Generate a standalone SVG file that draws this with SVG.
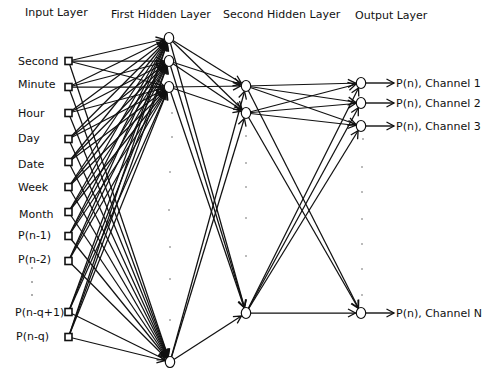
<svg xmlns="http://www.w3.org/2000/svg" width="493" height="368" viewBox="0 0 493 368">
  <style>
    text { font-family: "DejaVu Sans", "Liberation Sans", sans-serif; font-size: 11px; fill: #111; }
    .w { stroke: #111; stroke-width: 1.25; fill: none; marker-end: url(#head); }
    .out { stroke: #111; stroke-width: 1.4; fill: none; marker-end: url(#tip); }
    .unit { fill: #fff; stroke: #111; stroke-width: 1.2; }
    .sq { fill: #fff; stroke: #111; stroke-width: 1.6; }
    .dot { fill: #444; }
  </style>
  <defs>
    <!-- open arrowhead whose tip stops at the rim of a node (lines are drawn centre to centre) -->
    <marker id="head" markerUnits="userSpaceOnUse" markerWidth="16" markerHeight="10" refX="13" refY="4" orient="auto" overflow="visible">
      <path d="M0,0 L7.5,4 L0,8" fill="none" stroke="#111" stroke-width="1.3"/>
    </marker>
    <marker id="tip" markerUnits="userSpaceOnUse" markerWidth="10" markerHeight="10" refX="7.5" refY="4" orient="auto" overflow="visible">
      <path d="M0,0 L7.5,4 L0,8" fill="none" stroke="#111" stroke-width="1.3"/>
    </marker>
  </defs>

  <!-- layer titles -->
  <g id="titles">
    <text x="25" y="16">Input Layer</text>
    <text x="111" y="18">First Hidden Layer</text>
    <text x="223" y="18">Second Hidden Layer</text>
    <text x="355" y="19">Output Layer</text>
  </g>

  <g id="connectors">
    <!-- input layer to first hidden layer -->
    <line class="w" x1="68.5" y1="61" x2="169" y2="38"/>
    <line class="w" x1="68.5" y1="61" x2="169" y2="61"/>
    <line class="w" x1="68.5" y1="61" x2="169" y2="87"/>
    <line class="w" x1="68.5" y1="61" x2="170" y2="362"/>
    <line class="w" x1="68.5" y1="87" x2="169" y2="38"/>
    <line class="w" x1="68.5" y1="87" x2="169" y2="61"/>
    <line class="w" x1="68.5" y1="87" x2="169" y2="87"/>
    <line class="w" x1="68.5" y1="87" x2="170" y2="362"/>
    <line class="w" x1="68.5" y1="113" x2="169" y2="38"/>
    <line class="w" x1="68.5" y1="113" x2="169" y2="61"/>
    <line class="w" x1="68.5" y1="113" x2="169" y2="87"/>
    <line class="w" x1="68.5" y1="113" x2="170" y2="362"/>
    <line class="w" x1="68.5" y1="139" x2="169" y2="38"/>
    <line class="w" x1="68.5" y1="139" x2="169" y2="61"/>
    <line class="w" x1="68.5" y1="139" x2="169" y2="87"/>
    <line class="w" x1="68.5" y1="139" x2="170" y2="362"/>
    <line class="w" x1="68.5" y1="162" x2="169" y2="38"/>
    <line class="w" x1="68.5" y1="162" x2="169" y2="61"/>
    <line class="w" x1="68.5" y1="162" x2="169" y2="87"/>
    <line class="w" x1="68.5" y1="162" x2="170" y2="362"/>
    <line class="w" x1="68.5" y1="187" x2="169" y2="38"/>
    <line class="w" x1="68.5" y1="187" x2="169" y2="61"/>
    <line class="w" x1="68.5" y1="187" x2="169" y2="87"/>
    <line class="w" x1="68.5" y1="187" x2="170" y2="362"/>
    <line class="w" x1="68.5" y1="212" x2="169" y2="38"/>
    <line class="w" x1="68.5" y1="212" x2="169" y2="61"/>
    <line class="w" x1="68.5" y1="212" x2="169" y2="87"/>
    <line class="w" x1="68.5" y1="212" x2="170" y2="362"/>
    <line class="w" x1="68.5" y1="236" x2="169" y2="38"/>
    <line class="w" x1="68.5" y1="236" x2="169" y2="61"/>
    <line class="w" x1="68.5" y1="236" x2="169" y2="87"/>
    <line class="w" x1="68.5" y1="236" x2="170" y2="362"/>
    <line class="w" x1="68.5" y1="261" x2="169" y2="38"/>
    <line class="w" x1="68.5" y1="261" x2="169" y2="61"/>
    <line class="w" x1="68.5" y1="261" x2="169" y2="87"/>
    <line class="w" x1="68.5" y1="261" x2="170" y2="362"/>
    <line class="w" x1="68.5" y1="312" x2="169" y2="38"/>
    <line class="w" x1="68.5" y1="312" x2="169" y2="61"/>
    <line class="w" x1="68.5" y1="312" x2="169" y2="87"/>
    <line class="w" x1="68.5" y1="312" x2="170" y2="362"/>
    <line class="w" x1="68.5" y1="337" x2="169" y2="38"/>
    <line class="w" x1="68.5" y1="337" x2="169" y2="61"/>
    <line class="w" x1="68.5" y1="337" x2="169" y2="87"/>
    <line class="w" x1="68.5" y1="337" x2="170" y2="362"/>

    <!-- first hidden layer to second hidden layer -->
    <line class="w" x1="169" y1="38" x2="246" y2="86"/>
    <line class="w" x1="169" y1="38" x2="246" y2="113"/>
    <line class="w" x1="169" y1="38" x2="246" y2="313"/>
    <line class="w" x1="169" y1="61" x2="246" y2="86"/>
    <line class="w" x1="169" y1="61" x2="246" y2="113"/>
    <line class="w" x1="169" y1="61" x2="246" y2="313"/>
    <line class="w" x1="169" y1="87" x2="246" y2="86"/>
    <line class="w" x1="169" y1="87" x2="246" y2="113"/>
    <line class="w" x1="169" y1="87" x2="246" y2="313"/>
    <line class="w" x1="170" y1="362" x2="246" y2="86"/>
    <line class="w" x1="170" y1="362" x2="246" y2="113"/>
    <line class="w" x1="170" y1="362" x2="246" y2="313"/>

    <!-- second hidden layer to output layer -->
    <line class="w" x1="246" y1="86" x2="361" y2="83"/>
    <line class="w" x1="246" y1="86" x2="361" y2="103"/>
    <line class="w" x1="246" y1="86" x2="361" y2="126"/>
    <line class="w" x1="246" y1="86" x2="361" y2="313"/>
    <line class="w" x1="246" y1="113" x2="361" y2="83"/>
    <line class="w" x1="246" y1="113" x2="361" y2="103"/>
    <line class="w" x1="246" y1="113" x2="361" y2="126"/>
    <line class="w" x1="246" y1="113" x2="361" y2="313"/>
    <line class="w" x1="246" y1="313" x2="361" y2="83"/>
    <line class="w" x1="246" y1="313" x2="361" y2="103"/>
    <line class="w" x1="246" y1="313" x2="361" y2="126"/>
    <line class="w" x1="246" y1="313" x2="361" y2="313"/>

    <!-- outputs -->
    <line class="out" x1="366" y1="83" x2="394" y2="83"/>
    <line class="out" x1="366" y1="103" x2="394" y2="103"/>
    <line class="out" x1="366" y1="126" x2="394" y2="126"/>
    <line class="out" x1="366" y1="313" x2="394" y2="313"/>
  </g>

  <!-- input layer -->
  <g id="in-second"><rect class="sq" x="65" y="57.5" width="7" height="7"/><text x="18" y="65">Second</text></g>
  <g id="in-minute"><rect class="sq" x="65" y="83.5" width="7" height="7"/><text x="18" y="88">Minute</text></g>
  <g id="in-hour"><rect class="sq" x="65" y="109.5" width="7" height="7"/><text x="18" y="117">Hour</text></g>
  <g id="in-day"><rect class="sq" x="65" y="135.5" width="7" height="7"/><text x="18" y="142">Day</text></g>
  <g id="in-date"><rect class="sq" x="65" y="158.5" width="7" height="7"/><text x="18" y="168">Date</text></g>
  <g id="in-week"><rect class="sq" x="65" y="183.5" width="7" height="7"/><text x="18" y="191">Week</text></g>
  <g id="in-month"><rect class="sq" x="65" y="208.5" width="7" height="7"/><text x="19" y="218">Month</text></g>
  <g id="in-pn1"><rect class="sq" x="65" y="232.5" width="7" height="7"/><text x="18" y="239">P(n-1)</text></g>
  <g id="in-pn2"><rect class="sq" x="65" y="257.5" width="7" height="7"/><text x="18" y="263">P(n-2)</text></g>
  <g id="in-gap">
    <circle class="dot" cx="32" cy="268" r="0.8"/>
    <circle class="dot" cx="32" cy="282" r="0.8"/>
    <circle class="dot" cx="32" cy="295" r="0.8"/>
  </g>
  <g id="in-pnq1"><rect class="sq" x="65" y="308.5" width="7" height="7"/><text x="15" y="316">P(n-q+1)</text></g>
  <g id="in-pnq"><rect class="sq" x="65" y="333.5" width="7" height="7"/><text x="16" y="340">P(n-q)</text></g>

  <!-- first hidden layer -->
  <g id="h1-1"><ellipse class="unit" cx="169" cy="38" rx="4.7" ry="5.5"/></g>
  <g id="h1-2"><ellipse class="unit" cx="169" cy="61" rx="4.7" ry="5.5"/></g>
  <g id="h1-3"><ellipse class="unit" cx="169" cy="87" rx="4.7" ry="5.5"/></g>
  <g id="h1-gap">
    <circle class="dot" cx="172" cy="113" r="0.7"/>
    <circle class="dot" cx="172" cy="137" r="0.7"/>
    <circle class="dot" cx="170" cy="172" r="0.7"/>
    <circle class="dot" cx="169" cy="210" r="0.7"/>
    <circle class="dot" cx="170" cy="247" r="0.7"/>
    <circle class="dot" cx="170" cy="279" r="0.7"/>
    <circle class="dot" cx="170" cy="320" r="0.7"/>
  </g>
  <g id="h1-n"><ellipse class="unit" cx="170" cy="362" rx="4.7" ry="5.5"/></g>

  <!-- second hidden layer -->
  <g id="h2-1"><ellipse class="unit" cx="246" cy="86" rx="4.7" ry="5.5"/></g>
  <g id="h2-2"><ellipse class="unit" cx="246" cy="113" rx="4.7" ry="5.5"/></g>
  <g id="h2-gap">
    <circle class="dot" cx="246" cy="136" r="0.7"/>
    <circle class="dot" cx="246" cy="163" r="0.7"/>
    <circle class="dot" cx="246" cy="187" r="0.7"/>
    <circle class="dot" cx="246" cy="218" r="0.7"/>
    <circle class="dot" cx="246" cy="256" r="0.7"/>
  </g>
  <g id="h2-n"><ellipse class="unit" cx="246" cy="313" rx="4.7" ry="5.5"/></g>

  <!-- output layer -->
  <g id="out-1"><ellipse class="unit" cx="361" cy="83" rx="4.7" ry="5.5"/><text x="396" y="87">P(n), Channel 1</text></g>
  <g id="out-2"><ellipse class="unit" cx="361" cy="103" rx="4.7" ry="5.5"/><text x="396" y="107">P(n), Channel 2</text></g>
  <g id="out-3"><ellipse class="unit" cx="361" cy="126" rx="4.7" ry="5.5"/><text x="396" y="130">P(n), Channel 3</text></g>
  <g id="out-gap">
    <circle class="dot" cx="363" cy="139" r="0.7"/>
    <circle class="dot" cx="362" cy="167" r="0.7"/>
    <circle class="dot" cx="362" cy="192" r="0.7"/>
    <circle class="dot" cx="362" cy="219" r="0.7"/>
    <circle class="dot" cx="362" cy="244" r="0.7"/>
    <circle class="dot" cx="362" cy="269" r="0.7"/>
    <circle class="dot" cx="362" cy="295" r="0.7"/>
  </g>
  <g id="out-n"><ellipse class="unit" cx="361" cy="313" rx="4.7" ry="5.5"/><text x="396" y="317">P(n), Channel N</text></g>
</svg>
